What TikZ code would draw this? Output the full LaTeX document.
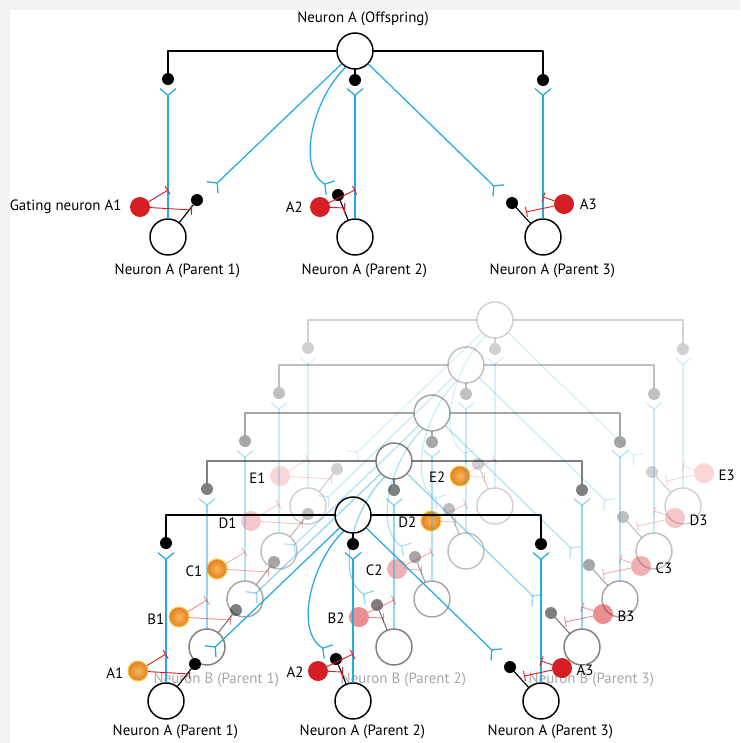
\documentclass[tikz,border=0pt]{standalone}
\usepackage{fontspec}
\setmainfont{PT Sans}
\usetikzlibrary{arrows.meta}
\usetikzlibrary{positioning}

\definecolor{dendcol}{RGB}{39,170,225}
\definecolor{gatered}{RGB}{214,30,36}
\definecolor{glowin}{RGB}{246,184,84}
\definecolor{glowout}{RGB}{226,126,38}
\definecolor{glowring}{RGB}{247,204,64}
\definecolor{framecol}{RGB}{243,243,243}

\tikzset{
  soma/.style={circle, draw, line width=1.1pt, minimum size=27pt, inner sep=0pt},
  knob/.style={circle, fill=black, minimum size=9pt, inner sep=0pt},
  gate/.style={circle, minimum size=15pt, inner sep=0pt},
  hot/.style={fill=gatered},
  glow/.style={opacity=1, draw=glowring, line width=0.8pt, shading=radial, inner color=glowin, outer color=glowout},
  axon/.style={line width=0.85pt},
  dendrite/.style={dendcol, line width=0.95pt},
  inhib/.style={gatered, line width=0.7pt, -{Bar[width=7.5pt, line width=0.7pt]}},
  fork/.style={-{Straight Barb[reversed, length=5pt, width=12pt, line width=0.95pt]}},
  lab/.style={font=\fontsize{11.2}{13}\selectfont, inner sep=1pt},
}

% one copy of the network: prefix, offspring position, opacity, gate styles
\newcommand{\netlayer}[6]{%
  \begin{scope}[shift={#2}, opacity=#3]
    % offspring and the three parents
    \node[soma] (#1o)  at (0,0)      {};
    \node[soma] (#1p1) at (-187,186) {};
    \node[soma] (#1p2) at (0,186)    {};
    \node[soma] (#1p3) at (188,186)  {};
    % axon of the offspring
    \node[knob] (#1d1) at (-187,28) {};
    \node[knob] (#1d2) at (0,29)    {};
    \node[knob] (#1d3) at (188,29)  {};
    \draw[axon] (#1o) -| (#1d1);
    \draw[axon] (#1o) -- (#1d2);
    \draw[axon] (#1o) -| (#1d3);
    % dendrites of the parents
    \coordinate (#1y1) at (-187,37);
    \coordinate (#1y2) at (0,37);
    \coordinate (#1y3) at (188,37);
    \draw[dendrite, fork] (#1p1) -- (#1y1);
    \draw[dendrite, fork] (#1p2) -- (#1y2);
    \draw[dendrite, fork] (#1p3) -- (#1y3);
    % axons of the parents
    \node[knob] (#1s1) at (-158,149) {};
    \node[knob] (#1s2) at (-17,144)  {};
    \node[knob] (#1s3) at (157,152)  {};
    \draw[axon] (#1s1) -- (#1p1);
    \draw[axon] (#1s2) -- (#1p2);
    \draw[axon] (#1s3) -- (#1p3);
    % dendrites of the offspring
    \coordinate (#1f1) at (-143,137);
    \coordinate (#1f2) at (-24,137);
    \coordinate (#1f3) at (144,140);
    \draw[dendrite, fork] (#1o) -- (#1f1);
    \draw[dendrite, fork] (#1o.240) .. controls (-40,45) and (-60,115) .. (#1f2);
    \draw[dendrite, fork] (#1o) -- (#1f3);
    % gating neurons
    \node[gate, #4] (#1g1) at (-215,156) {};
    \node[gate, #5] (#1g2) at (-35,156)  {};
    \node[gate, #6] (#1g3) at (209,153)  {};
    \coordinate (#1t1a) at (-187,139);
    \coordinate (#1t1b) at (-163,159);
    \coordinate (#1t2a) at (0,139);
    \coordinate (#1t2b) at (-10,157);
    \coordinate (#1t3a) at (188,146);
    \coordinate (#1t3b) at (171,161);
    \draw[inhib] (#1g1) -- (#1t1a);
    \draw[inhib] (#1g1) -- (#1t1b);
    \draw[inhib] (#1g2) -- (#1t2a);
    \draw[inhib] (#1g2) -- (#1t2b);
    \draw[inhib] (#1g3) -- (#1t3a);
    \draw[inhib] (#1g3) -- (#1t3b);
  \end{scope}}

\begin{document}
\begin{tikzpicture}[x=0.75pt, y=-0.75pt, line cap=round, line join=round]
  \useasboundingbox (0,0) rectangle (740,743);
  % frame
  \fill[framecol] (0,0) rectangle (740,10);
  \fill[framecol] (0,0) rectangle (10,743);

  % top: one network
  \netlayer{T}{(355,51)}{1}{hot}{hot}{hot}
  \node[lab, above=4pt of To, xshift=6pt] (lTo) {Neuron A (Offspring)};
  \node[lab, below=5pt of Tp1, xshift=7pt] (lTp1) {Neuron A (Parent 1)};
  \node[lab, below=5pt of Tp2, xshift=7pt] (lTp2) {Neuron A (Parent 2)};
  \node[lab, below=5pt of Tp3, xshift=7pt] (lTp3) {Neuron A (Parent 3)};
  \node[lab, left=5pt of Tg1] (lTg1) {Gating neuron A1};
  \node[lab, left=4pt of Tg2] (lTg2) {A2};
  \node[lab, right=3pt of Tg3] (lTg3) {A3};

  % bottom: five stacked networks, back to front
  \netlayer{E}{(495,320)}{0.18}{hot}{glow}{hot}
  \netlayer{D}{(466,365)}{0.25}{hot}{glow}{hot}
  \netlayer{C}{(432,413)}{0.35}{glow}{hot}{hot}
  \netlayer{B}{(394,461)}{0.5}{glow}{hot}{hot}
  \node[lab, gray!70, below=4pt of Bp1, xshift=7pt] (lBp1) {Neuron B (Parent 1)};
  \node[lab, gray!70, below=4pt of Bp2, xshift=7pt] (lBp2) {Neuron B (Parent 2)};
  \node[lab, gray!70, below=4pt of Bp3, xshift=7pt] (lBp3) {Neuron B (Parent 3)};
  \netlayer{A}{(353,515)}{1}{glow}{hot}{hot}
  \node[lab, below=3pt of Ap1, xshift=7pt] (lAp1) {Neuron A (Parent 1)};
  \node[lab, below=3pt of Ap2, xshift=7pt] (lAp2) {Neuron A (Parent 2)};
  \node[lab, below=3pt of Ap3, xshift=7pt] (lAp3) {Neuron A (Parent 3)};

  % gating neuron labels
  \foreach \l in {A,B,C,D,E}{
    \node[lab, left=2pt of \l g1, yshift=-2pt] (l\l g1) {\l1};
    \node[lab, left=2pt of \l g2, yshift=-1pt] (l\l g2) {\l2};
    \node[lab, right=2pt of \l g3, yshift=-2pt] (l\l g3) {\l3};
  }
\end{tikzpicture}
\end{document}
